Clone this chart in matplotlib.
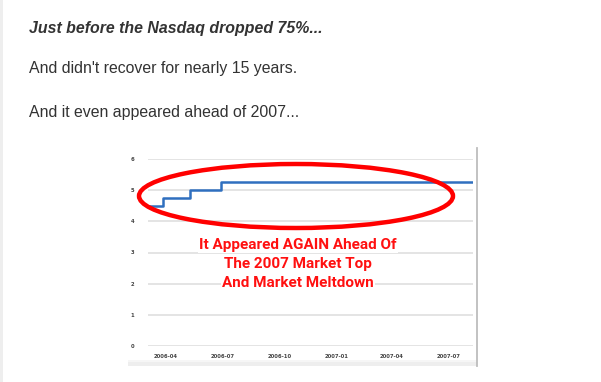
"""
Newsletter snippet with the 2006-2007 rate chart.
"""

import datetime as dt

import matplotlib
matplotlib.use('Agg')
import matplotlib.pyplot as plt
import matplotlib.dates as mdates
from matplotlib.patches import Ellipse, Rectangle

###

W, H = 601, 382

intro_lines = ["Just before the Nasdaq dropped 75%...",
               "And didn't recover for nearly 15 years.",
               "And it even appeared ahead of 2007..."]

note_lines = ["It Appeared AGAIN Ahead Of",
              "The 2007 Market Top",
              "And Market Meltdown"]

step_dates = [dt.date(2006, 3, 3), dt.date(2006, 3, 28), dt.date(2006, 5, 10),
              dt.date(2006, 6, 29), dt.date(2007, 8, 10)]
step_values = [4.5, 4.75, 5.0, 5.25, 5.25]

y_ticks = [0, 1, 2, 3, 4, 5, 6]
x_ticks = [dt.date(2006, 4, 1), dt.date(2006, 7, 1), dt.date(2006, 10, 1),
           dt.date(2007, 1, 1), dt.date(2007, 4, 1), dt.date(2007, 7, 1)]


def px(x, y):
    """Pixel position (from top left) to figure fraction."""
    return x / W, 1 - y / H


fig = plt.figure(figsize=(W / 100, H / 100), dpi=100)
fig.patch.set_facecolor('white')

# page edge on the left
fig.add_artist(Rectangle(px(0, H), 3 / W, 1, transform=fig.transFigure,
                         facecolor='#eeeeee', edgecolor='none'))

# intro text
text_kw = dict(family=['Liberation Sans', 'DejaVu Sans'], fontsize=11.4,
               color='#333333', va='center', ha='left')
fig.text(*px(29, 29), intro_lines[0], fontweight='bold', fontstyle='italic', **text_kw)
fig.text(*px(29, 69), intro_lines[1], **text_kw)
fig.text(*px(29, 112), intro_lines[2], **text_kw)

# chart
x0, y0 = px(148, 346)
x1, y1 = px(473, 159)
ax = fig.add_axes([x0, y0, x1 - x0, y1 - y0])
ax.set_facecolor('none')
ax.plot(step_dates, step_values, drawstyle='steps-post', color='#2f6fbf', linewidth=1.8,
        zorder=3)
ax.set_xlim(step_dates[0], step_dates[-1])
ax.set_ylim(0, 6)
ax.set_yticks(y_ticks)
ax.set_xticks(x_ticks)
ax.xaxis.set_major_formatter(mdates.DateFormatter('%Y-%m'))
ax.grid(axis='y', color='#e4e4e4', linewidth=1.4)
ax.set_axisbelow(True)
for s in ax.spines.values():
    s.set_visible(False)
ax.tick_params(length=0, labelsize=3.8, labelcolor='#444444')
ax.tick_params(axis='y', pad=10)
ax.tick_params(axis='x', pad=6)
for lab in ax.get_xticklabels() + ax.get_yticklabels():
    lab.set_fontweight('bold')

# frame bits of the pasted image
fig.add_artist(Rectangle(px(128, 366), 349 / W, 6 / H, transform=fig.transFigure,
                         facecolor='#eeeeee', edgecolor='none'))
fig.add_artist(Rectangle(px(128, 362), 349 / W, 2 / H, transform=fig.transFigure,
                         facecolor='#f6f6f6', edgecolor='none'))
fig.add_artist(plt.Line2D([477 / W, 477 / W], [1 - 148 / H, 1 - 366 / H],
                          transform=fig.transFigure, color='#bdbdbd', linewidth=1.3))

# red annotation
fig.add_artist(Ellipse(px(296, 196), 314 / W, 64 / H, transform=fig.transFigure,
                       facecolor='none', edgecolor='#ff0000', linewidth=3.2, zorder=5))
note_kw = dict(family=['Roboto', 'DejaVu Sans'], fontsize=11.0, fontweight='bold',
               color='#ff1010', ha='center', va='center',
               bbox=dict(facecolor='white', edgecolor='none', pad=0.6))
fig.text(*px(298, 245), note_lines[0], **note_kw)
fig.text(*px(298, 264), note_lines[1], **note_kw)
fig.text(*px(298, 283), note_lines[2], **note_kw)

fig.savefig('out.png', dpi=100)
